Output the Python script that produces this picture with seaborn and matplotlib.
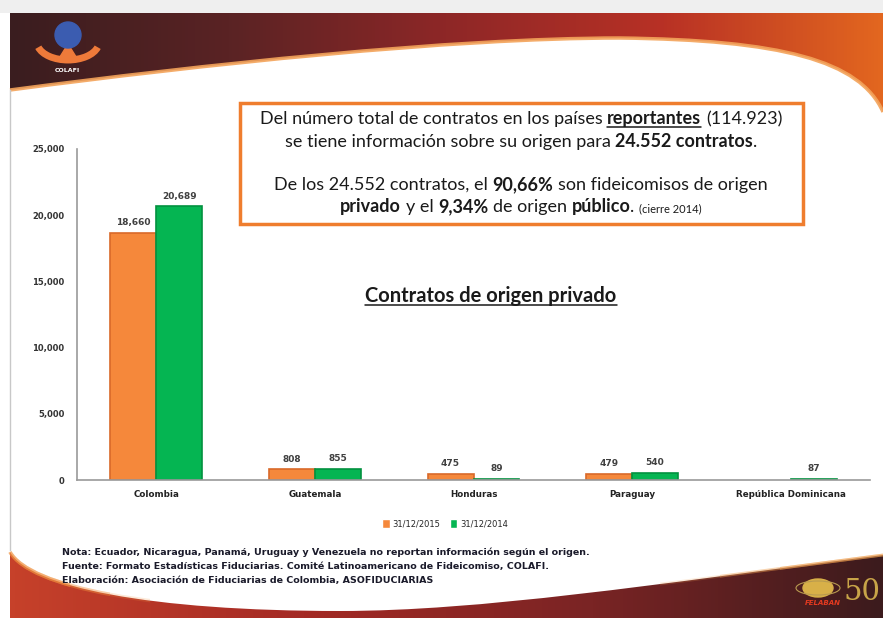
import numpy as np
import pandas as pd
import matplotlib
matplotlib.use("Agg")
import matplotlib.pyplot as plt
import seaborn as sns
from matplotlib.path import Path
from matplotlib.patches import PathPatch, Rectangle, Ellipse, Arc, Polygon
from matplotlib.colors import LinearSegmentedColormap
from matplotlib.ticker import FuncFormatter, FixedLocator

# Data
paises = ["Colombia", "Guatemala", "Honduras", "Paraguay", "República Dominicana"]
fechas = ["31/12/2015", "31/12/2014"]
contratos_2015 = [18660, 808, 475, 479, None]   # no bar for República Dominicana
contratos_2014 = [20689, 855, 89, 540, 87]
colores = ["#F5883B", "#05B552"]
y_ticks = [0, 5000, 10000, 15000, 20000, 25000]

notas = [
    "Nota: Ecuador, Nicaragua, Panamá, Uruguay y Venezuela no reportan información según el origen.",
    "Fuente: Formato Estadísticas Fiduciarias. Comité Latinoamericano de Fideicomiso, COLAFI.",
    "Elaboración: Asociación de Fiduciarias de Colombia, ASOFIDUCIARIAS",
]

rows = []
for p, a, b in zip(paises, contratos_2015, contratos_2014):
    if a is not None:
        rows.append({"pais": p, "fecha": fechas[0], "contratos": a})
    rows.append({"pais": p, "fecha": fechas[1], "contratos": b})
df = pd.DataFrame(rows)

W, H = 883, 618
fig = plt.figure(figsize=(W / 100, H / 100), dpi=100)
fig.patch.set_facecolor("white")

# background axes in pixel coords for the slide decoration
bg = fig.add_axes([0, 0, 1, 1], zorder=-5)
bg.set_xlim(0, W)
bg.set_ylim(H, 0)
bg.axis("off")

bg.add_patch(Rectangle((0, 0), W, 13, color="#efefef", lw=0))
bg.plot([10, 10], [90, 550], color="#c8c8c8", lw=1)

# header band
hdr_cmap = LinearSegmentedColormap.from_list(
    "hdr", ["#3a1d1f", "#5a2324", "#8e2727", "#b83125", "#e2661f"])
hdr_path = Path(
    [(10, 13), (883, 13), (883, 112), (860, 60), (780, 40), (620, 38),
     (450, 38), (200, 65), (10, 90), (10, 13)],
    [Path.MOVETO, Path.LINETO, Path.LINETO, Path.CURVE4, Path.CURVE4, Path.CURVE4,
     Path.CURVE4, Path.CURVE4, Path.CURVE4, Path.CLOSEPOLY])
hdr_patch = PathPatch(hdr_path, transform=bg.transData, facecolor="none", lw=0)
bg.add_patch(hdr_patch)
im = bg.imshow(np.linspace(0, 1, 256)[None, :], cmap=hdr_cmap, aspect="auto",
               extent=(10, W, 120, 13), interpolation="bilinear")
im.set_clip_path(hdr_patch)
edge = Path([(883, 112), (860, 60), (780, 40), (620, 38), (450, 38), (200, 65), (10, 90)],
            [Path.MOVETO, Path.CURVE4, Path.CURVE4, Path.CURVE4, Path.CURVE4, Path.CURVE4,
             Path.CURVE4])
bg.add_patch(PathPatch(edge, transform=bg.transData, facecolor="none",
                       edgecolor="#f3a35a", lw=2.5, alpha=0.9))

# footer band
ftr_cmap = LinearSegmentedColormap.from_list(
    "ftr", ["#c6412a", "#a42a25", "#7a2424", "#3c1b1d"])
left_pts = [(10, 552), (30, 587), (150, 611), (340, 611)]
right_pts = [(340, 611), (480, 611), (650, 585), (883, 555)]
ftr_path = Path(
    left_pts + right_pts[1:] + [(883, 630), (10, 630), (10, 552)],
    [Path.MOVETO, Path.CURVE4, Path.CURVE4, Path.CURVE4, Path.CURVE4, Path.CURVE4,
     Path.CURVE4, Path.LINETO, Path.LINETO, Path.CLOSEPOLY])
ftr_patch = PathPatch(ftr_path, transform=bg.transData, facecolor="none", lw=0)
bg.add_patch(ftr_patch)
im2 = bg.imshow(np.linspace(0, 1, 256)[None, :], cmap=ftr_cmap, aspect="auto",
                extent=(10, W, 630, 540), interpolation="bilinear")
im2.set_clip_path(ftr_patch)

# orange highlights along the footer edge, fading out
bez = [Path.MOVETO, Path.CURVE4, Path.CURVE4, Path.CURVE4]
for x0, x1, a in [(0, 70, 0.5), (0, 110, 0.3), (0, 150, 0.2)]:
    p = PathPatch(Path(left_pts, bez), transform=bg.transData, facecolor="none",
                  edgecolor="#f0913f", lw=2.5, alpha=a)
    bg.add_patch(p)
    p.set_clip_path(Rectangle((x0, 530), x1 - x0, 90, transform=bg.transData))
for x0, a in [(780, 0.45), (720, 0.3), (660, 0.2)]:
    p = PathPatch(Path(right_pts, bez), transform=bg.transData, facecolor="none",
                  edgecolor="#f0a050", lw=2, alpha=a)
    bg.add_patch(p)
    p.set_clip_path(Rectangle((x0, 530), W - x0, 90, transform=bg.transData))

# logos (simplified)
bg.add_patch(Arc((68, 42), 62, 36, theta1=10, theta2=170, color="#ee7a3a", lw=5))
bg.add_patch(Polygon([(58, 60), (68, 44), (78, 60)], closed=True, color="#ee7a3a"))
bg.add_patch(Ellipse((68, 35), 26, 26, color="#3b5cb0"))
bg.text(67, 70, "COLAFI", color="white", fontsize=4.5, fontweight="bold",
        ha="center", va="center")
bg.add_patch(Ellipse((818, 588), 30, 18, color="#d8b048"))
bg.add_patch(Ellipse((818, 588), 44, 14, facecolor="none", edgecolor="#b89a50", lw=0.8))
bg.text(843, 592, "50", color="#c8a448", fontsize=21, family="DejaVu Serif",
        ha="left", va="center")
bg.text(841, 603, "FELABAN", color="#e43a20", fontsize=5, fontweight="bold",
        style="italic", ha="right", va="center")

# main chart
sns.set_style("white")
ax = fig.add_axes([77 / W, (H - 480) / H, 793 / W, 331 / H])
sns.barplot(data=df, x="pais", y="contratos", hue="fecha", order=paises,
            hue_order=fechas, palette=colores, width=0.58, ax=ax,
            edgecolor="none", saturation=1)
for cont, col in zip(ax.containers, ["#d9692a", "#02913f"]):
    for bar in cont:
        bar.set_edgecolor(col)
        bar.set_linewidth(1.2)
    ax.bar_label(cont, fmt="{:,.0f}", padding=4, fontsize=6.5, fontweight="bold",
                 color="#404040")

ax.set_xlim(-0.5, len(paises) - 0.5)
ax.set_ylim(0, 25000)
ax.yaxis.set_major_locator(FixedLocator(y_ticks))
ax.yaxis.set_major_formatter(FuncFormatter(lambda v, p: f"{v:,.0f}"))
ax.xaxis.set_minor_locator(FixedLocator(np.arange(-0.5, len(paises), 1.0)))
ax.tick_params(axis="x", which="major", length=0, pad=7, labelsize=6.3,
               labelcolor="#222222")
ax.tick_params(axis="x", which="minor", length=4, color="#9a9a9a", direction="out")
ax.tick_params(axis="y", length=4, color="#9a9a9a", direction="out", pad=5,
               labelsize=6, labelcolor="#333333")
for lab in ax.get_xticklabels() + ax.get_yticklabels():
    lab.set_fontweight("bold")
for s in ["top", "right"]:
    ax.spines[s].set_visible(False)
for s in ["left", "bottom"]:
    ax.spines[s].set_color("#9a9a9a")
    ax.spines[s].set_linewidth(1.2)
ax.set_xlabel("")
ax.set_ylabel("")
ax.patch.set_alpha(0)

ax.legend_.remove()
handles = [Rectangle((0, 0), 1, 1, facecolor=c) for c in colores]
ax.legend(handles, fechas, loc="center", bbox_to_anchor=(445 / W, 1 - 524 / H),
          bbox_transform=fig.transFigure, ncol=2, frameon=False, fontsize=6,
          handlelength=0.9, handleheight=1.3, columnspacing=1.2, handletextpad=0.3)

# text box with mixed formatting
renderer = fig.canvas.get_renderer()


def text_width(s, size, weight):
    t = bg.text(0, 0, s, fontsize=size, fontweight=weight, family="Lato")
    w = t.get_window_extent(renderer).width
    t.remove()
    return w


def rich_line(xc, y, parts, size=13):
    # parts: (text, bold, underline, size or None)
    widths = []
    for txt, bold, und, sz in parts:
        sz = sz or size
        w = 0
        if txt.strip():
            w = text_width(txt.strip(), sz, "bold" if bold else "normal")
        sp = text_width("a a", sz, "normal") - text_width("aa", sz, "normal")
        lead = sp * (len(txt) - len(txt.lstrip()))
        trail = sp * (len(txt) - len(txt.rstrip()))
        widths.append((lead, w, trail))
    total = sum(a + b + c for a, b, c in widths)
    x = xc - total / 2
    for (txt, bold, und, sz), (lead, w, trail) in zip(parts, widths):
        sz = sz or size
        x += lead
        bg.text(x, y, txt.strip(), fontsize=sz, family="Lato", color="#1a1a1a",
                fontweight="bold" if bold else "normal", ha="left", va="baseline")
        if und:
            bg.plot([x, x + w], [y + 2.5, y + 2.5], color="#1a1a1a", lw=1.1)
        x += w + trail


bg.add_patch(Rectangle((240, 103), 563, 121, facecolor="white",
                       edgecolor="#EF7D2E", lw=2.5))
xc = 521
rich_line(xc, 124, [("Del número total de contratos en los países ", False, False, None),
                    ("reportantes", True, True, None),
                    (" (114.923)", False, False, None)])
rich_line(xc, 147, [("se tiene información sobre su origen para ", False, False, None),
                    ("24.552 contratos", True, False, None),
                    (".", False, False, None)])
rich_line(xc, 190, [("De los 24.552 contratos, el ", False, False, None),
                    ("90,66%", True, False, None),
                    (" son fideicomisos de origen", False, False, None)])
rich_line(xc, 212, [("privado", True, False, None),
                    (" y el ", False, False, None),
                    ("9,34%", True, False, None),
                    (" de origen ", False, False, None),
                    ("público", True, False, None),
                    (". ", False, False, None),
                    ("(cierre 2014)", False, False, 8)])

rich_line(491, 302, [("Contratos de origen privado", True, True, 14.5)])

for i, n in enumerate(notas):
    bg.text(62, 552 + i * 14, n, fontsize=6.8, fontweight="bold", color="#1a1a2a",
            va="center", ha="left")

fig.savefig("out.png", dpi=100)
